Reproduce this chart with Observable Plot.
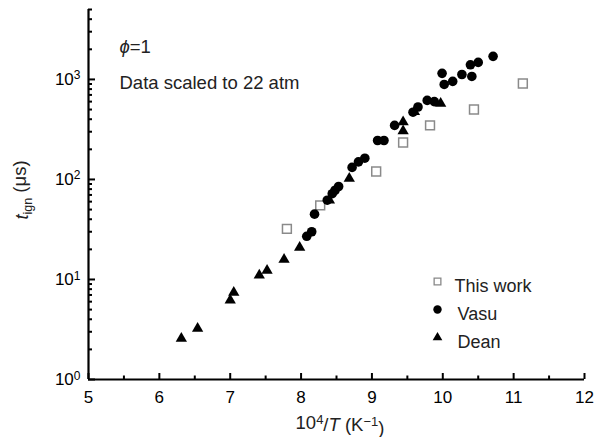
<!DOCTYPE html>
<html><head><meta charset="utf-8">
<script src="https://cdn.jsdelivr.net/npm/d3@7"></script>
<script src="https://cdn.jsdelivr.net/npm/@observablehq/plot@0.6"></script>
<style>
body{margin:0;background:#fff;}
#chart{position:relative;width:603px;height:437px;}
svg{font-family:"Liberation Sans",Arial,sans-serif;}
</style></head>
<body><div id="chart"></div>
<script>
// This work (open squares)
const thisWorkX = [7.80, 8.27, 9.06, 9.44, 9.82, 10.44, 11.13];
const thisWorkY = [32, 55, 120, 234, 347, 500, 910];
// Vasu (filled circles)
const vasuX = [8.08, 8.15, 8.19, 8.37, 8.44, 8.48, 8.53, 8.72, 8.81, 8.90, 9.08, 9.17, 9.32, 9.58, 9.65, 9.78, 9.88, 9.99, 10.02, 10.14, 10.27, 10.39, 10.41, 10.50, 10.71];
const vasuY = [27, 30, 45, 62, 72, 78, 85, 132, 150, 163, 245, 245, 347, 470, 530, 617, 600, 1150, 890, 955, 1120, 1400, 1070, 1480, 1700];
// Dean (filled triangles)
const deanX = [6.31, 6.54, 7.00, 7.05, 7.41, 7.52, 7.76, 7.98, 8.40, 8.68, 9.44, 9.44, 9.60, 9.97];
const deanY = [2.57, 3.24, 6.2, 7.4, 11, 12.3, 15.8, 20.9, 62, 102, 305, 375, 475, 575];

const seriesNames = ["This work", "Vasu", "Dean"];
const xTicks = [5, 6, 7, 8, 9, 10, 11, 12];
const xMinorTicks = [5.5, 6.5, 7.5, 8.5, 9.5, 10.5, 11.5];
const yTicks = [1, 10, 100, 1000];
const yMinorTicks = [];
for (const d of [1, 10, 100, 1000]) for (let k = 2; k <= 9; k++) if (d * k <= 5000) yMinorTicks.push(d * k);
const notes = ["\u03d5=1", "Data scaled to 22 atm"];

const toRows = (xs, ys) => xs.map((x, i) => ({x, y: ys[i]}));
const thisWork = toRows(thisWorkX, thisWorkY);
const vasu = toRows(vasuX, vasuY);
const dean = toRows(deanX, deanY);

const legendStyles = [
  {symbol: "square", fill: "white", stroke: "#888", r: 3.8, strokeWidth: 1.3},
  {symbol: "circle", fill: "black", stroke: "none", r: 4.2},
  {symbol: "triangle", fill: "black", stroke: "none", r: 3.6}
];

const plot = Plot.plot({
  width: 603, height: 437,
  marginLeft: 88, marginRight: 19, marginTop: 9, marginBottom: 58,
  style: {fontFamily: '"Liberation Sans", Arial, sans-serif', fontSize: "17px", color: "black", background: "white"},
  x: {domain: [5, 12]},
  y: {type: "log", domain: [1, 5000]},
  marks: [
    Plot.axisX({ticks: xTicks, tickSize: -6, strokeWidth: 2, tickFormat: () => "", label: null}),
    Plot.axisX({ticks: xMinorTicks, tickSize: -3.5, strokeWidth: 2, tickFormat: () => "", label: null}),
    Plot.axisX({ticks: xTicks, tickSize: 0, tickPadding: 11, tickFormat: d3.format("d"), label: null, fontSize: 17}),
    Plot.axisY({ticks: yTicks, tickSize: -7, strokeWidth: 2, tickFormat: () => "", label: null}),
    Plot.axisY({ticks: yMinorTicks, tickSize: -4, strokeWidth: 2, tickFormat: () => "", label: null}),
    Plot.axisY({ticks: yTicks, tickSize: 0, tickPadding: 8, tickFormat: d => "10^" + Math.round(Math.log10(d)), label: null, fontSize: 17}),
    Plot.ruleX([5], {strokeWidth: 2.2}),
    Plot.ruleY([1], {strokeWidth: 2.2}),
    Plot.dot(thisWork, {x: "x", y: "y", symbol: "square", r: 5, fill: "white", stroke: "#8a8a8a", strokeWidth: 1.5}),
    Plot.dot(vasu, {x: "x", y: "y", symbol: "circle", r: 4.8, fill: "black"}),
    Plot.dot(dean, {x: "x", y: "y", symbol: "triangle", r: 4.2, fill: "black"}),
    Plot.text([notes[0]], {frameAnchor: "top-left", dx: 31, dy: 30, textAnchor: "start", fontSize: 18.5, fill: "#222"}),
    Plot.text([notes[1]], {frameAnchor: "top-left", dx: 31, dy: 66, textAnchor: "start", fontSize: 18.5, fill: "#222"}),
    ...seriesNames.map((s, i) => Plot.dot([s], {frameAnchor: "top-left", dx: 349, dy: 272 + 28 * i, ...legendStyles[i]})),
    ...seriesNames.map((s, i) => Plot.text([s], {frameAnchor: "top-left", dx: 366 + (i === 0 ? 0 : 3), dy: 270 + 28 * i, textAnchor: "start", fontSize: 18, fill: "#222"}))
  ]
});

const svg = d3.select(plot);
// superscripts on y tick labels
svg.selectAll('g[aria-label="y-axis tick label"] text').each(function() {
  const t = d3.select(this).text();
  if (t.includes("^")) {
    const [b, e] = t.split("^");
    const el = d3.select(this);
    el.text(b);
    el.append("tspan").attr("dy", "-0.45em").attr("font-size", "12px").text(e);
  }
});
// italic phi
svg.selectAll("text").each(function() {
  const el = d3.select(this);
  if (el.text() === notes[0]) {
    el.text("");
    el.append("tspan").attr("font-style", "italic").text("\u03d5");
    el.append("tspan").text("=1");
  }
});

// x label
const xl = svg.append("text").attr("x", 340).attr("y", 429).attr("text-anchor", "middle").attr("font-size", 18.5).attr("fill", "#222");
xl.append("tspan").text("10");
xl.append("tspan").attr("dy", "-0.42em").attr("font-size", "13px").text("4");
xl.append("tspan").attr("dy", "0.42em").text("/");
xl.append("tspan").attr("font-style", "italic").text("T");
xl.append("tspan").text(" (K");
xl.append("tspan").attr("dy", "-0.42em").attr("font-size", "13px").text("\u22121");
xl.append("tspan").attr("dy", "0.42em").text(")");
// y label
const yl = svg.append("text").attr("transform", "translate(28,190) rotate(-90)").attr("text-anchor", "middle").attr("font-size", 18.5).attr("fill", "#222");
yl.append("tspan").attr("font-style", "italic").text("t");
yl.append("tspan").attr("dy", "0.35em").attr("font-size", "12.5px").text("ign");
yl.append("tspan").attr("dy", "-0.35em").text(" (\u03bcs)");

document.getElementById("chart").appendChild(plot);
</script></body></html>
